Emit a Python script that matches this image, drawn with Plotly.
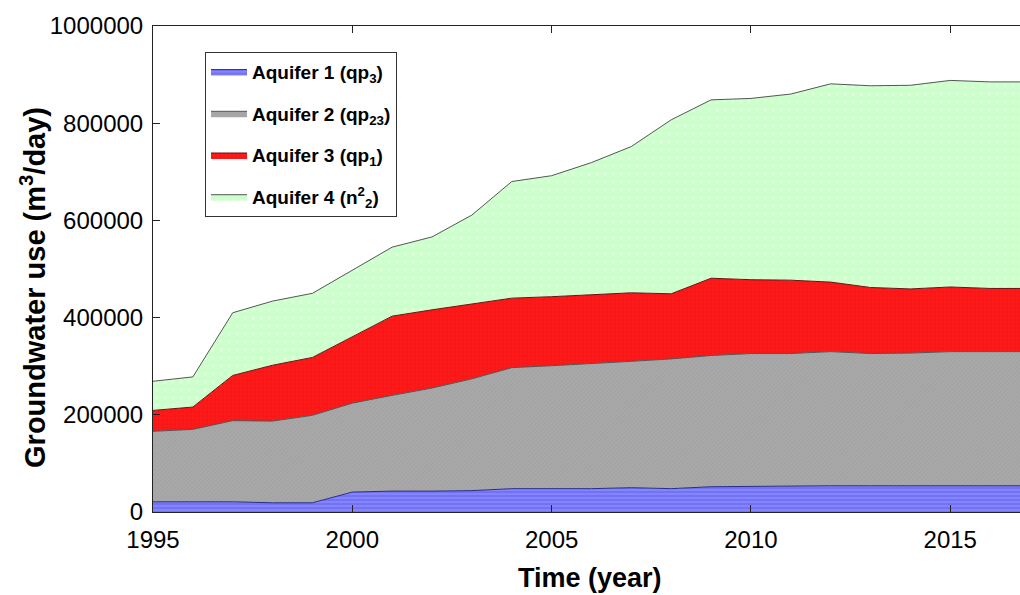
import plotly.graph_objects as go

years = list(range(1995, 2018))

# cumulative (stacked) tops, converted to per-layer values
aquifer1 = [21000, 21000, 21000, 19000, 19000, 41000, 43000, 43000, 44000, 48000, 48000,
            48000, 50000, 48000, 52000, 53000, 53000, 54000, 54000, 54000, 54000, 54000, 54000]
top2 = [166000, 170000, 188000, 187000, 199000, 224000, 240000, 255000, 274000, 297000, 301000,
        305000, 310000, 315000, 322000, 326000, 326000, 330000, 326000, 327000, 330000, 330000, 330000]
top3 = [209000, 216000, 281000, 302000, 318000, 361000, 403000, 416000, 428000, 440000, 443000,
        447000, 451000, 449000, 481000, 478000, 477000, 473000, 462000, 459000, 463000, 460000, 460000]
top4 = [269000, 278000, 410000, 434000, 450000, 497000, 545000, 566000, 611000, 680000, 692000,
        719000, 752000, 807000, 848000, 851000, 860000, 881000, 877000, 878000, 888000, 885000, 885000]

aquifer2 = [b - a for a, b in zip(aquifer1, top2)]
aquifer3 = [b - a for a, b in zip(top2, top3)]
aquifer4 = [b - a for a, b in zip(top3, top4)]

names = ["Aquifer 1 (qp<sub>3</sub>)", "Aquifer 2 (qp<sub>23</sub>)",
         "Aquifer 3 (qp<sub>1</sub>)", "Aquifer 4 (n<sup>2</sup><sub>2</sub>)"]
y_ticks = [0, 200000, 400000, 600000, 800000, 1000000]
y_ticktext = ["0", "200000", "400000", "600000", "800000", "1000000"]
x_ticks = [1995, 2000, 2005, 2010, 2015]

series = [aquifer1, aquifer2, aquifer3, aquifer4]
styles = [
    dict(bg="#8484ff", fg="#5050e0", shape="-", size=4, sol=0.35, line="#2a2a8a"),
    dict(bg="#a9a9a9", fg="#959595", shape="/", size=3, sol=0.3, line="#555555"),
    dict(bg="#ff1a1a", fg="#d00000", shape="+", size=4, sol=0.15, line="#6a1010"),
    dict(bg="#ccffcc", fg="#e6ffe6", shape=".", size=8, sol=0.2, line="#555555"),
]

FONT = "Liberation Sans, Arial, sans-serif"

fig = go.Figure()
for i, (name, vals, st) in enumerate(zip(names, series, styles)):
    fig.add_trace(go.Scatter(
        x=years, y=vals, name=name, mode="lines", stackgroup="one",
        legendgroup=f"g{i}",
        line=dict(color=st["line"], width=1),
        fillcolor=st["bg"],
        fillpattern=dict(shape=st["shape"], bgcolor=st["bg"], fgcolor=st["fg"],
                         size=st["size"], solidity=st["sol"]),
    ))

axis_font = dict(family=FONT, size=24, color="black")
fig.update_layout(
    width=1020, height=595,
    margin=dict(l=153, r=0, t=26, b=83),
    paper_bgcolor="white", plot_bgcolor="white",
    font=dict(family=FONT, color="black"),
    showlegend=True,
    legend=dict(
        x=0.06, y=0.947, xanchor="left", yanchor="top",
        bgcolor="white", bordercolor="#333333", borderwidth=1,
        font=dict(family=FONT, size=19, color="black", weight="bold"),
        traceorder="grouped", tracegroupgap=14,
        itemwidth=36,
    ),
    xaxis=dict(
        range=[1995, 2016.75], tickvals=x_ticks, ticktext=[str(v) for v in x_ticks],
        ticks="inside", ticklen=7, tickcolor="#222", showline=True, linecolor="#222",
        linewidth=1, mirror="ticks", showgrid=False, zeroline=False,
        tickfont=axis_font, ticklabelstandoff=6,
    ),
    yaxis=dict(
        range=[0, 1000000], tickvals=y_ticks, ticktext=y_ticktext,
        ticks="inside", ticklen=7, tickcolor="#222", showline=True, linecolor="#222",
        linewidth=1, mirror=False, showgrid=False, zeroline=False,
        tickfont=axis_font, ticklabelstandoff=4,
    ),
    annotations=[
        dict(text="<b>Time (year)</b>", xref="paper", yref="paper", x=0.504, y=-0.136,
             xanchor="center", yanchor="middle", showarrow=False,
             font=dict(family=FONT, size=27, color="black")),
        dict(text="<b>Groundwater use (m<sup>3</sup>/day)</b>", xref="paper", yref="paper",
             x=-0.1384, y=0.461, xanchor="center", yanchor="middle", showarrow=False,
             textangle=-90, font=dict(family=FONT, size=29, color="black")),
    ],
)

fig.write_html("out.html")
